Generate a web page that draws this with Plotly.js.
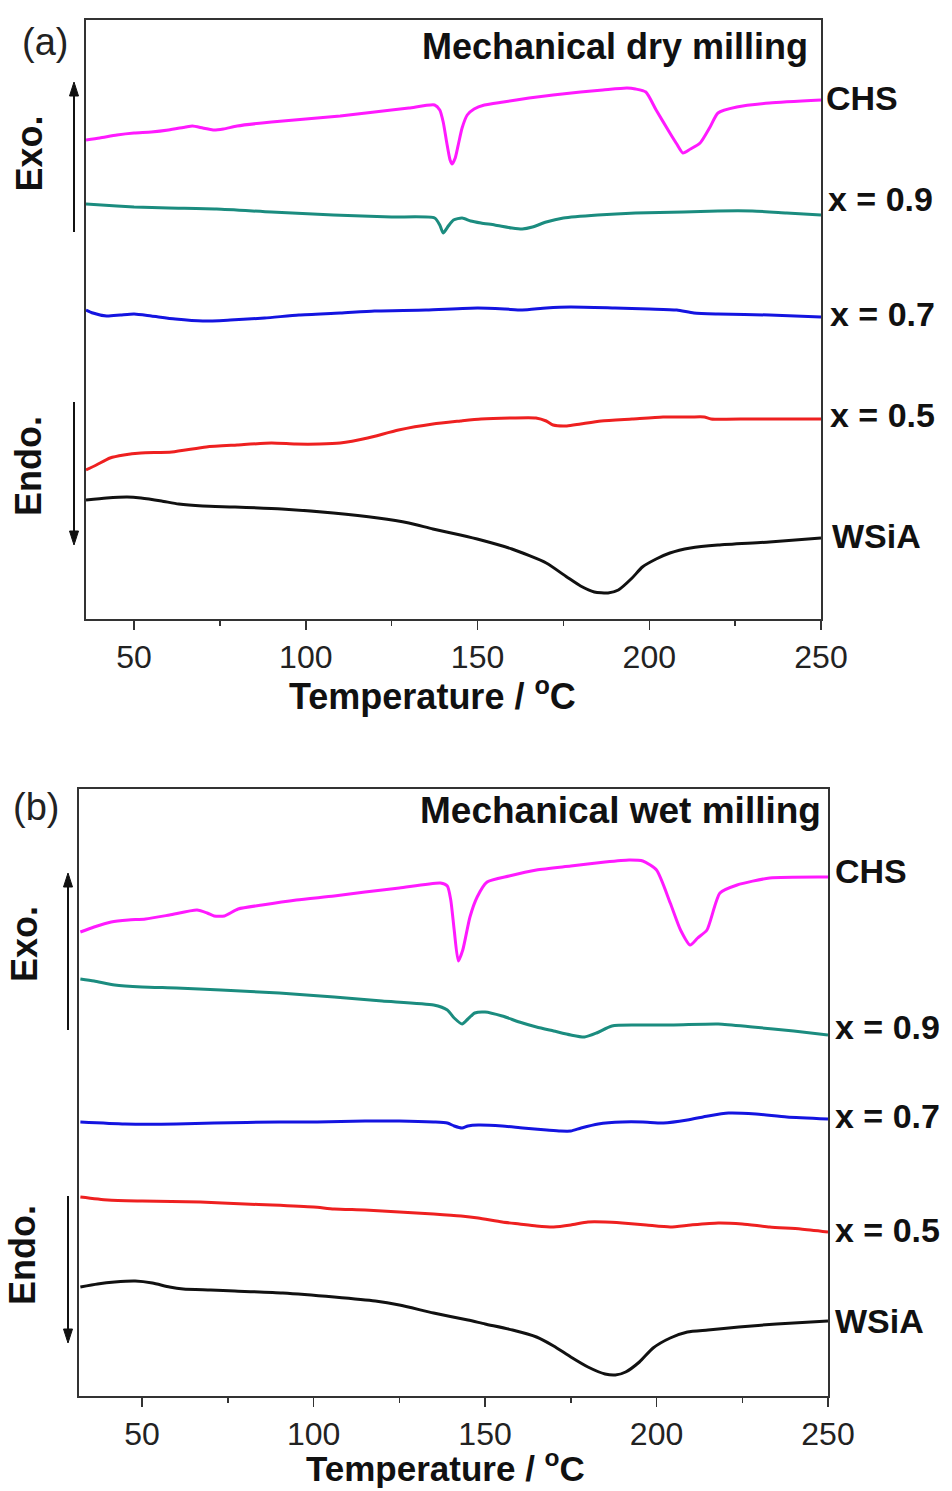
<!DOCTYPE html>
<html>
<head>
<meta charset="utf-8">
<script src="https://cdn.plot.ly/plotly-3.0.1.min.js"></script>
<style>
  html, body { margin: 0; padding: 0; background: #fff; }
  #chart { width: 952px; height: 1491px; }
</style>
</head>
<body>
<div id="chart"></div>
<script>
// ---------- Data (temperature in °C, heat flow in arbitrary offset units) ----------
// Panel (a): mechanical dry milling
const a_CHS_T = [36,40,45,50,55,60,65,67,70,73,76,80,90,100,110,120,130,137.5,139,140,141,142,142.6,143.5,144.5,145.5,147,149,152,157.5,165,172,180,186.5,193.5,196,199,202,206,208,209.8,212,214.8,217.7,220,225.5,235,250];
const a_CHS_v = [479,481,484,486,487,489,492,493,491,489,490,493,497,500,503,507,511,514,509,497,477,459,455,461,476,491,504,510,514,517,521,524,527,529,531,530,527,509,486,475,466,470,476,492,506,512,516,519];

const a_x09_T = [36,45,50,60,74,90,108,125,137.5,139,140,141.5,143,145.5,148,151,155,160,163,166,170,175,185,196,210,220,230,240,250];
const a_x09_v = [415,413,412,411,410,407,404,402,401,394,386,393,399,401,398,396,394,391,390,392,397,401,404,406,407,408,408,406,404];

const a_x07_T = [36,38,42,46,50,55,62,70,78,88,98,110,120,135,150,158,163,170,177,190,200,208,213,220,235,250];
const a_x07_v = [309,306,303,304,305,303,300,298,299,301,304,306,308,309,311,310,309,311,312,311,310,309,306,305,304,302];

const a_x05_T = [36,39,43,47,52,61,71,80,90,97,104,110,118,127,137,145,151,160,167,170,172,176,180,186,195,204,212,216,218,230,250];
const a_x05_v = [149,154,161,164,166,167,172,174,176,175,175,176,181,189,195,198,200,201,201,198,194,193,195,198,200,202,202,202,200,200,200];

const a_WSiA_T = [36,42,48,52,58,63,70,79,93,108,121,130,137,145,151,160,170,176,180,184,188,191,195,198,202,206,212,220,235,250];
const a_WSiA_v = [119,121,122,121,118,115,113,112,110,106,101,96,90,84,79,70,56,42,33,27,26,29,41,52,60,66,71,74,77,81];

// Panel (b): mechanical wet milling
const b_CHS_T = [32,36,41,46,51,58,66,69,71,74,78,85,95,106,115,125,137,139,140,141,142.2,143.5,145.6,147.7,150.6,157,165,175,185,192,196,200,204,207,209.8,212,214.7,218.5,223.5,233,250];
const b_CHS_v = [464,469,474,476,477,481,486,483,480,480,487,491,496,500,504,508,513,510,496,466,435,446,479,499,514,520,526,530,534,536,535,526,493,466,451,458,466,503,511,518,519];

const b_x09_T = [32,36,42,50,60,73,90,106,120,135,139,141,143.3,145,147,150,155,160,165,170,175,179,182.5,187,194,205,218,228,240,250];
const b_x09_v = [417,415,411,409,408,406,403,399,395,391,386,378,372,377,383,384,380,374,369,365,361,359,363,370,371,371,372,369,365,361];

const b_x07_T = [32,45,60,71,90,101,115,125,135,139,141,143.3,145,148,155,161,168,172,175,178,183,190,196,202,209,215,221,229,238,250];
const b_x07_v = [274,272,272,273,274,274,275,275,274,273,270,268,270,271,270,268,266,265,265,268,272,274,274,273,276,280,283,282,279,277];

const b_x05_T = [32,40,50,67,80,88,100,106,115,125,135,143,148,155,160,165,170,175,180,185,190,197,204,210,218,225,233,242,250];
const b_x05_v = [199,196,195,194,192,191,189,187,186,184,182,180,178,174,172,170,169,171,174,174,173,171,169,171,173,172,169,167,164];

const b_WSiA_T = [32,37,42,48,53,58,62,70,77,91,106,118,125,135,145,150,158,165,170,175,180,185,188,191,195,199,204,209,215,224,235,250];
const b_WSiA_v = [109,112,114,115,113,109,107,106,105,103,99,95,91,83,76,72,66,59,50,39,29,22,21,24,34,48,58,64,66,69,72,75];

const seriesNames = ["CHS", "x = 0.9", "x = 0.7", "x = 0.5", "WSiA"];
const seriesColors = ["#ff1aff", "#1b8c7f", "#1414e0", "#ee2020", "#111111"];
const tickVals = [50, 100, 150, 200, 250];
const minorTopTicks = [75, 125, 175, 225];
const panelTitles = ["Mechanical dry milling", "Mechanical wet milling"];
const panelLabels = ["(a)", "(b)"];
const xTitle = "Temperature / <sup>o</sup>C";

// ---------- Layout helpers ----------
const W = 952, H = 1491;
const px = v => v / W;
const py = v => 1 - v / H;
const FONT = "Liberation Sans, Arial, Helvetica, sans-serif";

const A = {x0: 86, x1: 821, y0: 19.5, y1: 619, xr: [36, 250], yr: [0, 599.5]};
const B = {x0: 79, x1: 828, y0: 789, y1: 1396, xr: [31.6, 250], yr: [0, 607]};

const aData = [[a_CHS_T,a_CHS_v],[a_x09_T,a_x09_v],[a_x07_T,a_x07_v],[a_x05_T,a_x05_v],[a_WSiA_T,a_WSiA_v]];
const bData = [[b_CHS_T,b_CHS_v],[b_x09_T,b_x09_v],[b_x07_T,b_x07_v],[b_x05_T,b_x05_v],[b_WSiA_T,b_WSiA_v]];

const traces = [];
aData.forEach((d, i) => traces.push({
  x: d[0], y: d[1], type: "scatter", mode: "lines", name: seriesNames[i],
  xaxis: "x", yaxis: "y",
  line: {color: seriesColors[i], width: 3, shape: "spline", smoothing: 0.6},
  hoverinfo: "skip", showlegend: false
}));
bData.forEach((d, i) => traces.push({
  x: d[0], y: d[1], type: "scatter", mode: "lines", name: seriesNames[i],
  xaxis: "x2", yaxis: "y2",
  line: {color: seriesColors[i], width: 3, shape: "spline", smoothing: 0.6},
  hoverinfo: "skip", showlegend: false
}));

const axLine = "#333";
function bottomAxis(P, anchor) {
  return {
    domain: [px(P.x0), px(P.x1)], range: P.xr, anchor: anchor,
    showline: true, linecolor: axLine, linewidth: 1.6, mirror: true,
    showgrid: false, zeroline: false,
    tickmode: "array", tickvals: tickVals, ticktext: tickVals.map(String),
    ticks: "outside", ticklen: 9, tickwidth: 1.5, tickcolor: axLine,
    minor: {tickvals: minorTopTicks, ticks: "outside", ticklen: 5, tickwidth: 1.5, tickcolor: axLine, showgrid: false},
    tickfont: {family: FONT, size: 32, color: "#222"},
    fixedrange: true
  };
}
function topAxis(over, anchor, P) {
  return {
    overlaying: over, anchor: anchor, side: "top", range: P.xr,
    showline: false, showgrid: false, zeroline: false,
    tickmode: "array", tickvals: minorTopTicks, ticks: "outside", ticklen: 6,
    tickwidth: 1.5, tickcolor: axLine, showticklabels: false, fixedrange: true
  };
}
function leftAxis(P, anchor) {
  return {
    domain: [py(P.y1), py(P.y0)], range: P.yr, anchor: anchor,
    showline: true, linecolor: axLine, linewidth: 1.6, mirror: true,
    showgrid: false, zeroline: false, ticks: "", showticklabels: false, fixedrange: true
  };
}

const ann = [];
function text(t, x, y, size, opts) {
  ann.push(Object.assign({
    text: t, xref: "paper", yref: "paper", x: px(x), y: py(y),
    xanchor: "center", yanchor: "middle", showarrow: false,
    font: {family: FONT, size: size, color: "#111"}
  }, opts || {}));
}
const shapes = [];
function arrow(x, yTip, yTail) {
  const dir = yTip < yTail ? 1 : -1;   // 1: pointing up
  const headLen = 14, headHalf = 4.5;
  const yBase = yTip + dir * headLen;
  shapes.push({type: "line", xref: "paper", yref: "paper",
    x0: px(x), x1: px(x), y0: py(yTail), y1: py(yBase),
    line: {color: "#111", width: 2}});
  shapes.push({type: "path", xref: "paper", yref: "paper",
    path: "M " + px(x) + " " + py(yTip) + " L " + px(x - headHalf) + " " + py(yBase) +
          " L " + px(x + headHalf) + " " + py(yBase) + " Z",
    fillcolor: "#111", line: {color: "#111", width: 1}});
}

// Panel (a) texts
text(panelLabels[0], 45, 42, 38, {font: {family: FONT, size: 38, color: "#222"}});
text("<b>" + panelTitles[0] + "</b>", 810, 47, 36, {xanchor: "right"});
text("<b>" + xTitle + "</b>", 432, 694, 36);
text("<b>Exo.</b>", 29, 153.5, 36, {textangle: -90});
text("<b>Endo.</b>", 29, 466, 36, {textangle: -90});
arrow(74, 82, 232);
arrow(74, 545, 402);
const aLabelY = [97.5, 199, 314, 415, 536];
const aLabelX = [824, 826, 828, 828, 830];
seriesNames.forEach((n, i) => text("<b>" + n + "</b>", aLabelX[i], aLabelY[i], 34, {xanchor: "left"}));

// Panel (b) texts
text(panelLabels[1], 36, 807, 38, {font: {family: FONT, size: 38, color: "#222"}});
text("<b>" + panelTitles[1] + "</b>", 823, 810, 37, {xanchor: "right"});
text("<b>" + xTitle + "</b>", 445, 1466, 35);
text("<b>Exo.</b>", 24, 944, 36, {textangle: -90});
text("<b>Endo.</b>", 22, 1255, 36, {textangle: -90});
arrow(68, 873, 1030);
arrow(68, 1343, 1196);
const bLabelY = [871, 1027, 1116, 1230, 1321];
seriesNames.forEach((n, i) => text("<b>" + n + "</b>", 833, bLabelY[i], 34, {xanchor: "left"}));

const layout = {
  width: W, height: H,
  margin: {l: 0, r: 0, t: 0, b: 0},
  paper_bgcolor: "#fff", plot_bgcolor: "#fff",
  showlegend: false,
  xaxis: bottomAxis(A, "y"),
  yaxis: leftAxis(A, "x"),
  xaxis2: bottomAxis(B, "y2"),
  yaxis2: leftAxis(B, "x2"),
  xaxis3: topAxis("x", "y", A),
  xaxis4: topAxis("x2", "y2", B),
  annotations: ann,
  shapes: shapes
};

Plotly.newPlot("chart", traces, layout, {displayModeBar: false, staticPlot: true});
</script>
</body>
</html>
